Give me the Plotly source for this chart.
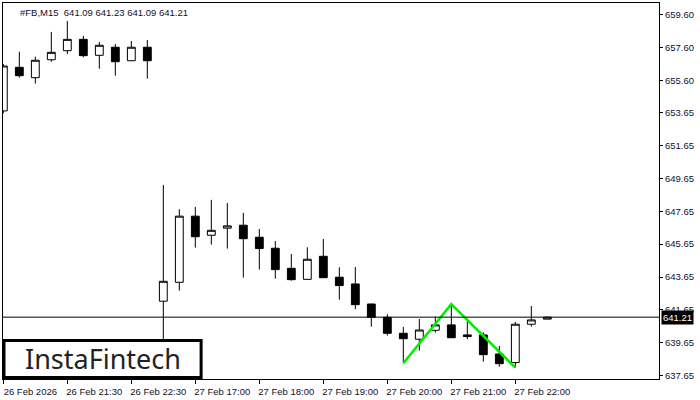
import plotly.graph_objects as go

# ---- data -------------------------------------------------------------
times = [
    "26 Feb 20:30", "26 Feb 20:45", "26 Feb 21:00", "26 Feb 21:15",
    "26 Feb 21:30", "26 Feb 21:45", "26 Feb 22:00", "26 Feb 22:15",
    "26 Feb 22:30", "26 Feb 22:45",
    "27 Feb 16:30", "27 Feb 16:45", "27 Feb 17:00", "27 Feb 17:15",
    "27 Feb 17:30", "27 Feb 17:45", "27 Feb 18:00", "27 Feb 18:15",
    "27 Feb 18:30", "27 Feb 18:45", "27 Feb 19:00", "27 Feb 19:15",
    "27 Feb 19:30", "27 Feb 19:45", "27 Feb 20:00", "27 Feb 20:15",
    "27 Feb 20:30", "27 Feb 20:45", "27 Feb 21:00", "27 Feb 21:15",
    "27 Feb 21:30", "27 Feb 21:45", "27 Feb 22:00", "27 Feb 22:15",
    "27 Feb 22:30",
]
opens = [
    653.75, 656.40, 655.77, 656.86, 657.41, 658.10, 657.13, 657.62, 656.80, 657.62,
    642.18, 643.33, 647.35, 646.19, 646.62, 646.80, 646.07, 645.40, 644.18, 643.51,
    644.91, 643.64, 643.23, 642.01, 641.20, 640.23, 639.87, 640.41, 640.74, 640.13,
    640.13, 638.97, 638.45, 640.78, 641.09,
]
highs = [
    656.60, 657.35, 657.05, 658.55, 659.22, 658.31, 657.94, 657.82, 658.00, 658.06,
    649.25, 647.77, 647.91, 648.34, 648.15, 647.55, 646.57, 645.84, 645.05, 645.46,
    645.96, 644.24, 644.26, 642.03, 641.39, 640.62, 641.10, 641.24, 642.00, 640.94,
    640.29, 639.46, 640.92, 641.89, 641.23,
]
lows = [
    653.60, 655.77, 655.41, 656.74, 657.21, 657.01, 656.32, 655.89, 656.78, 655.71,
    639.30, 642.82, 645.44, 645.62, 645.38, 643.61, 644.10, 643.55, 643.43, 643.50,
    643.60, 642.27, 641.69, 640.63, 640.09, 638.41, 639.17, 640.27, 639.95, 639.87,
    638.51, 638.20, 638.14, 640.63, 641.09,
]
closes = [
    656.48, 655.89, 656.83, 657.31, 658.10, 657.11, 657.74, 656.74, 657.62, 656.80,
    643.39, 647.35, 646.10, 646.49, 646.76, 645.98, 645.38, 644.10, 643.49, 644.73,
    643.61, 643.13, 641.97, 641.20, 640.23, 639.90, 640.43, 640.74, 639.96, 640.03,
    638.93, 638.38, 640.78, 641.04, 641.21,
]
current_price = 641.21
header_text = "#FB,M15  641.09 641.23 641.09 641.21"

# double-bottom pattern: low, peak, low
pattern_bars = [25, 28, 32]

x_tick_times = ["26 Feb 20:30", "26 Feb 21:30", "26 Feb 22:30", "27 Feb 17:00",
                "27 Feb 18:00", "27 Feb 19:00", "27 Feb 20:00", "27 Feb 21:00",
                "27 Feb 22:00"]
x_tick_labels = ["26 Feb 2026", "26 Feb 21:30", "26 Feb 22:30", "27 Feb 17:00",
                 "27 Feb 18:00", "27 Feb 19:00", "27 Feb 20:00", "27 Feb 21:00",
                 "27 Feb 22:00"]
y_tick_labels = ["659.60", "657.60", "655.60", "653.65", "651.65", "649.65",
                 "647.65", "645.65", "643.65", "641.65", "639.65", "637.65"]

# ---- figure -----------------------------------------------------------
FONT = "Liberation Sans, Arial, sans-serif"

fig = go.Figure()

fig.add_trace(go.Candlestick(
    x=times, open=opens, high=highs, low=lows, close=closes,
    increasing=dict(fillcolor="white", line=dict(color="black", width=1)),
    decreasing=dict(fillcolor="black", line=dict(color="black", width=1)),
    whiskerwidth=0,
    showlegend=False,
    hoverinfo="skip",
))

pat_x = [times[pattern_bars[0]], times[pattern_bars[1]], times[pattern_bars[2]]]
pat_y = [lows[pattern_bars[0]], highs[pattern_bars[1]], lows[pattern_bars[2]]]
fig.add_trace(go.Scatter(
    x=pat_x, y=pat_y, mode="lines",
    line=dict(color="#00ee00", width=2.5),
    showlegend=False, hoverinfo="skip",
))

# current price line
fig.add_shape(type="line", xref="paper", x0=0, x1=1, yref="y",
              y0=current_price, y1=current_price,
              line=dict(color="black", width=1), layer="above")

# current price label
fig.add_annotation(xref="paper", x=1, xanchor="left", xshift=2,
                   yref="y", y=current_price, yanchor="middle",
                   text=f"{current_price:.2f}", showarrow=False,
                   bgcolor="black", borderpad=1,
                   font=dict(family=FONT, size=9.5, color="white"))

# header
fig.add_annotation(xref="paper", x=0, xanchor="left", xshift=15,
                   yref="paper", y=1, yanchor="top", yshift=-2,
                   text=header_text, showarrow=False,
                   font=dict(family=FONT, size=9.5, color="#10102a"))

# logo box
fig.add_shape(type="rect", xref="paper", yref="paper",
              x0=0.0015, x1=0.302, y0=0.004, y1=0.1025,
              fillcolor="white", line=dict(color="black", width=3),
              layer="above")
fig.add_annotation(xref="paper", x=0.152, xanchor="center",
                   yref="paper", y=0.054, yanchor="middle",
                   text="InstaFintech", showarrow=False,
                   font=dict(family="Noto Sans, sans-serif", size=27,
                             color="#222222"))

fig.update_layout(
    width=700, height=400,
    margin=dict(l=3, r=41, t=3, b=21),
    paper_bgcolor="white", plot_bgcolor="white",
    boxgap=0.3,
    font=dict(family=FONT, size=9.5, color="black"),
    xaxis=dict(
        type="category",
        range=[-0.02, 40.98],
        rangeslider=dict(visible=False),
        showgrid=False, zeroline=False,
        showline=True, linecolor="black", linewidth=1, mirror=True,
        ticks="outside", ticklen=4, tickcolor="black",
        tickvals=x_tick_times, ticktext=x_tick_labels,
        ticklabelshift=27, ticklabelstandoff=0,
        tickfont=dict(family=FONT, size=9.5, color="#10102a"),
        fixedrange=True,
    ),
    yaxis=dict(
        side="right",
        range=[637.45, 660.31],
        showgrid=False, zeroline=False,
        showline=True, linecolor="black", linewidth=1, mirror=True,
        ticks="outside", ticklen=3, tickcolor="black",
        tickvals=[float(t) for t in y_tick_labels], ticktext=y_tick_labels,
        tickfont=dict(family=FONT, size=9.5, color="#10102a"),
        fixedrange=True,
    ),
)

fig.write_html(
    "out.html",
    config={"displayModeBar": False},
    post_script="document.body.style.margin='0px';document.body.style.overflow='hidden';",
)
